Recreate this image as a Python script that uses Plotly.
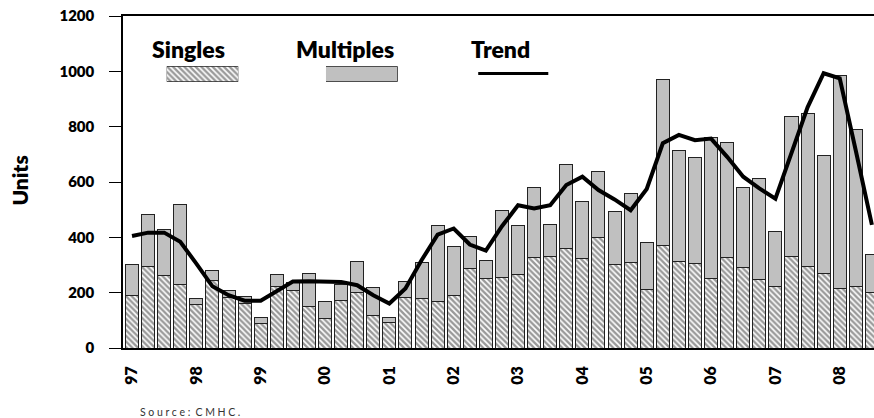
import plotly.graph_objects as go

# Quarterly data 1997Q1 .. 2008Q3
years = list(range(1997, 2009))
quarters = [f"{y}Q{q}" for y in years for q in range(1, 5)][:47]

singles = [190, 294, 261, 229, 158, 245, 182, 160, 88, 223, 208, 150,
           106, 171, 199, 117, 92, 181, 179, 167, 190, 287, 250, 255,
           264, 327, 331, 360, 323, 399, 302, 309, 211, 369, 314, 305,
           251, 327, 290, 247, 223, 332, 296, 268, 214, 223, 200]

totals = [303, 484, 428, 517, 179, 279, 208, 185, 109, 265, 238, 269,
          167, 228, 313, 217, 109, 240, 309, 444, 368, 402, 318, 496,
          443, 580, 446, 665, 530, 639, 492, 557, 380, 969, 714, 689,
          760, 742, 580, 614, 421, 837, 848, 696, 984, 788, 338]

multiples = [t - s for t, s in zip(totals, singles)]

trend = [405, 417, 417, 384, 305, 223, 191, 171, 171, 204, 240, 241,
         241, 239, 227, 191, 161, 215, 317, 410, 432, 374, 352, 440,
         516, 504, 516, 589, 619, 571, 537, 498, 575, 740, 770, 751,
         757, 691, 619, 577, 540, 700, 870, 993, 975, 713, 445]

tick_quarters = [f"{y}Q1" for y in years]
tick_labels = [f"{y % 100:02d}" for y in years]

FONT = "Lato"
EDGE = "#222222"
GREY = "#c0c0c0"
hatch = dict(shape="\\", fgcolor="#333333", bgcolor="white", size=4, solidity=0.6)

fig = go.Figure()

fig.add_trace(go.Bar(
    x=quarters, y=singles, name="Singles",
    marker=dict(color="white", pattern=hatch, line=dict(color=EDGE, width=1)),
    showlegend=False))
fig.add_trace(go.Bar(
    x=quarters, y=multiples, name="Multiples",
    marker=dict(color=GREY, line=dict(color=EDGE, width=1)),
    showlegend=False))
fig.add_trace(go.Scatter(
    x=quarters, y=trend, name="Trend", mode="lines",
    line=dict(color="black", width=4), showlegend=False))

# legend swatches (drawn on small helper axes)
fig.add_trace(go.Bar(x=[0.5], y=[1], width=[1], xaxis="x2", yaxis="y2",
                     marker=dict(color="white", pattern=hatch, line=dict(color=EDGE, width=1)),
                     showlegend=False, hoverinfo="skip"))
fig.add_trace(go.Bar(x=[0.5], y=[1], width=[1], xaxis="x3", yaxis="y3",
                     marker=dict(color=GREY, line=dict(color=EDGE, width=1)),
                     showlegend=False, hoverinfo="skip"))

hidden = dict(visible=False, range=[0, 1], fixedrange=True)

fig.update_layout(
    width=874, height=418,
    margin=dict(l=123, r=0, t=16, b=70),
    paper_bgcolor="white", plot_bgcolor="white",
    barmode="stack", bargap=0.19,
    font=dict(family=FONT, color="black"),
    xaxis=dict(type="category", categoryorder="array", categoryarray=quarters,
               range=[-0.56, 46.13], showgrid=False, zeroline=False,
               showline=True, linecolor="black", linewidth=1.5, mirror=True,
               ticks="outside", ticklen=10, tickcolor="rgba(0,0,0,0)",
               tickvals=tick_quarters, ticktext=tick_labels, tickangle=-90,
               tickfont=dict(family=FONT, size=16, weight=800, color="black")),
    yaxis=dict(range=[0, 1200], tickvals=list(range(0, 1201, 200)),
               showgrid=False, zeroline=False,
               showline=True, linecolor="black", linewidth=1.5,
               ticks="outside", ticklen=12, tickwidth=1, tickcolor="black",
               ticklabelstandoff=12, ticklabeloverflow="allow",
               tickfont=dict(family=FONT, size=15, weight=800, color="black")),
    xaxis2=dict(domain=[0.0582, 0.1535], anchor="y2", **hidden),
    yaxis2=dict(domain=[0.802, 0.849], anchor="x2", **hidden),
    xaxis3=dict(domain=[0.2703, 0.3658], anchor="y3", **hidden),
    yaxis3=dict(domain=[0.802, 0.849], anchor="x3", **hidden),
)

fig.add_shape(type="line", xref="paper", yref="paper",
              x0=0.473, x1=0.5663, y0=0.827, y1=0.827,
              line=dict(color="black", width=3))

legend_font = dict(family=FONT, size=23, weight=800, color="black")
for txt, xc in [("Singles", 0.0866), ("Multiples", 0.295), ("Trend", 0.5033)]:
    fig.add_annotation(text=txt, xref="paper", yref="paper", x=xc, y=0.90,
                       xanchor="center", yanchor="middle", showarrow=False,
                       font=legend_font)

fig.add_annotation(text="Units", xref="paper", yref="paper", x=-0.139, y=0.503,
                   xanchor="center", yanchor="middle", textangle=-90, showarrow=False,
                   font=dict(family=FONT, size=21, weight=800, color="black"))

sp = "\u2005"
fig.add_annotation(text=sp.join("Source:") + sp * 2 + sp.join("CMHC."),
                   xref="paper", yref="paper",
                   x=0.0196, y=-0.194, xanchor="left", yanchor="middle", showarrow=False,
                   font=dict(family=FONT, size=10.5, color="#333333"))

# remove the page's default body margin so the figure fills the window exactly
fig.write_html("out.html",
               config={"displayModeBar": False},
               post_script="document.body.style.margin='0';document.body.style.overflow='hidden';")
